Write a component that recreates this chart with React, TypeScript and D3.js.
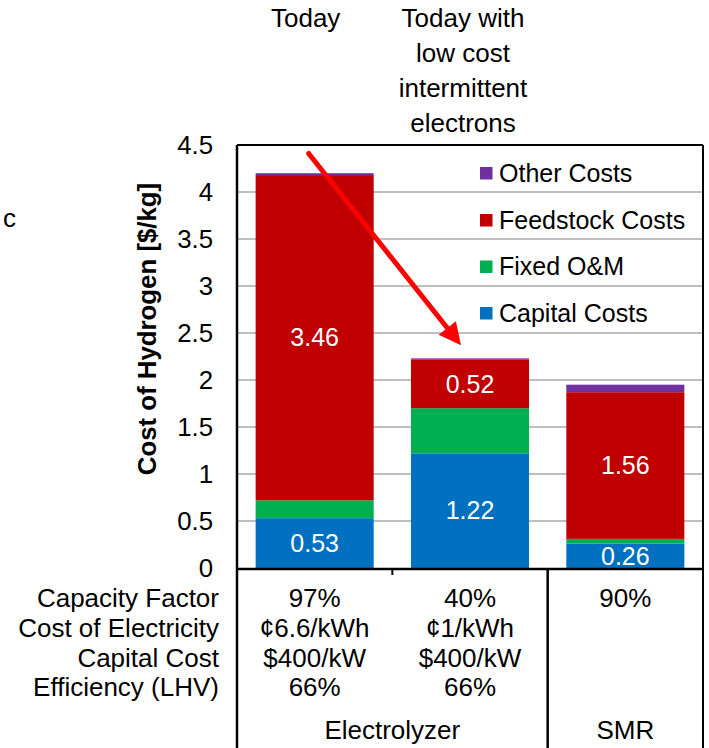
import React from "react";
import * as d3 from "d3";

const categories = ["Today", "Today with low cost intermittent electrons", "SMR"];
const seriesKeys = ["Capital Costs", "Fixed O&M", "Feedstock Costs", "Other Costs"];
const capitalCosts = [0.53, 1.22, 0.26];
const fixedOM = [0.19, 0.48, 0.05];
const feedstockCosts = [3.46, 0.52, 1.56];
const otherCosts = [0.02, 0.01, 0.08];
const capitalLabels = ["0.53", "1.22", "0.26"];
const feedstockLabels = ["3.46", "0.52", "1.56"];
const yTicks = [0, 0.5, 1, 1.5, 2, 2.5, 3, 3.5, 4, 4.5];
const topLabels = [["Today"], ["Today with", "low cost", "intermittent", "electrons"], []];
const rowHeaders = ["Capacity Factor", "Cost of Electricity", "Capital Cost", "Efficiency (LHV)"];
const tableValues = [
  ["97%", "¢6.6/kWh", "$400/kW", "66%"],
  ["40%", "¢1/kWh", "$400/kW", "66%"],
  ["90%", "", "", ""],
];
const groupLabels = ["Electrolyzer", "SMR"];
const colors = ["#0070C0", "#00B050", "#C00000", "#7030A0"];

const FONT = "'Liberation Sans', Arial, sans-serif";
const FS = 25;
const FS_T = 26;

export default function App() {
  const W = 709, H = 748;
  const left = 237, right = 703, top = 145, bottom = 568;

  const x = d3.scaleBand<number>().domain([0, 1, 2]).range([left, right]).paddingInner(0.24).paddingOuter(0.12);
  const y = d3.scaleLinear().domain([0, 4.5]).range([bottom, top]);

  const rows = categories.map((c, i) => ({
    "Capital Costs": capitalCosts[i],
    "Fixed O&M": fixedOM[i],
    "Feedstock Costs": feedstockCosts[i],
    "Other Costs": otherCosts[i],
  }));
  const stack = d3.stack<any>().keys(seriesKeys)(rows);
  const totals = rows.map((r: any) => seriesKeys.reduce((s, k) => s + r[k], 0));
  const step = x.step();
  const cx = (i: number) => (x(i) as number) + x.bandwidth() / 2;
  const boundary = (i: number) => left + step * i;

  const ax1 = cx(0) - 6, ay1 = y(totals[0] + 0.21);
  const ax2 = cx(1) - 9, ay2 = y(totals[1] + 0.14);
  const ang = Math.atan2(ay2 - ay1, ax2 - ax1);
  const headLen = 22, headW = 11;
  const bx = ax2 - headLen * Math.cos(ang), by = ay2 - headLen * Math.sin(ang);
  const px = -Math.sin(ang), py = Math.cos(ang);
  const head = `M${ax2},${ay2} L${bx + px * headW},${by + py * headW} L${bx - px * headW},${by - py * headW} Z`;

  const legendItems = [3, 2, 1, 0];
  const legendY = [173, 220, 266.5, 313];

  const tableY0 = 598, rowStep = 29.7;

  return (
    <svg width={W} height={H} style={{ position: "absolute", left: 0, top: 0, background: "#fff" }} fontFamily={FONT}>
      <rect x={0} y={0} width={W} height={H} fill="#fff" />
      {yTicks.filter((t) => t > 0 && t < 4.5).map((t) => (
        <line key={t} x1={left} x2={right} y1={y(t)} y2={y(t)} stroke="#BFBFBF" strokeWidth={2} />
      ))}
      {stack.map((s, si) =>
        s.map((d, i) => (
          <rect key={`${si}-${i}`} x={x(i)} width={x.bandwidth()} y={y(d[1])} height={y(d[0]) - y(d[1])} fill={colors[si]} />
        ))
      )}
      {stack[0].map((d, i) => (
        <text key={`c${i}`} x={cx(i)} y={(y(d[0]) + y(d[1])) / 2} dy="0.35em" textAnchor="middle" fill="#fff" fontSize={FS}>
          {capitalLabels[i]}
        </text>
      ))}
      {stack[2].map((d, i) => (
        <text key={`f${i}`} x={cx(i)} y={(y(d[0]) + y(d[1])) / 2} dy="0.35em" textAnchor="middle" fill="#fff" fontSize={FS}>
          {feedstockLabels[i]}
        </text>
      ))}
      <line x1={left} x2={right} y1={top} y2={top} stroke="#000" strokeWidth={2} />
      <line x1={right} x2={right} y1={top} y2={H} stroke="#000" strokeWidth={2} />
      <line x1={left} x2={left} y1={top} y2={H} stroke="#000" strokeWidth={2.5} />
      <line x1={left} x2={right} y1={bottom + 1} y2={bottom + 1} stroke="#000" strokeWidth={2.5} />
      <line x1={boundary(1)} x2={boundary(1)} y1={bottom} y2={bottom + 7} stroke="#000" strokeWidth={2} />
      <line x1={boundary(2)} x2={boundary(2)} y1={bottom} y2={H} stroke="#000" strokeWidth={2.5} />
      {yTicks.map((t) => (
        <text key={t} x={213} y={y(t)} dy="0.35em" textAnchor="end" fontSize={25.8} fill="#000">
          {t}
        </text>
      ))}
      <text transform={`translate(${156},${329}) rotate(-90)`} textAnchor="middle" fontSize={25.8} fontWeight="bold" fill="#000">
        Cost of Hydrogen [$/kg]
      </text>
      <text x={3} y={227} fontSize={FS_T} fill="#000">c</text>
      {legendItems.map((si, k) => (
        <g key={si}>
          <rect x={480} y={legendY[k] - 6} width={12.5} height={12.5} fill={colors[si]} />
          <text x={499} y={legendY[k]} dy="0.35em" fontSize={FS} fill="#000">
            {seriesKeys[si]}
          </text>
        </g>
      ))}
      <line x1={ax1} y1={ay1} x2={bx} y2={by} stroke="#FF0000" strokeWidth={5} strokeLinecap="round" />
      <path d={head} fill="#FF0000" />
      {topLabels.map((lines, i) =>
        lines.map((l, j) => (
          <text key={`${i}-${j}`} x={cx(i) + (i === 0 ? -9 : -7)} y={27 + j * 35} textAnchor="middle" fontSize={FS_T} fill="#000">
            {l}
          </text>
        ))
      )}
      {rowHeaders.map((r, j) => (
        <text key={r} x={219} y={tableY0 + j * rowStep} dy="0.35em" textAnchor="end" fontSize={FS_T} fill="#000">
          {r}
        </text>
      ))}
      {tableValues.map((col, i) =>
        col.map((v, j) => (
          <text key={`${i}-${j}`} x={cx(i)} y={tableY0 + j * rowStep} dy="0.35em" textAnchor="middle" fontSize={FS_T} fill="#000">
            {v}
          </text>
        ))
      )}
      <text x={(left + boundary(2)) / 2} y={730} dy="0.35em" textAnchor="middle" fontSize={FS_T} fill="#000">{groupLabels[0]}</text>
      <text x={(boundary(2) + right) / 2} y={730} dy="0.35em" textAnchor="middle" fontSize={FS_T} fill="#000">{groupLabels[1]}</text>
    </svg>
  );
}
